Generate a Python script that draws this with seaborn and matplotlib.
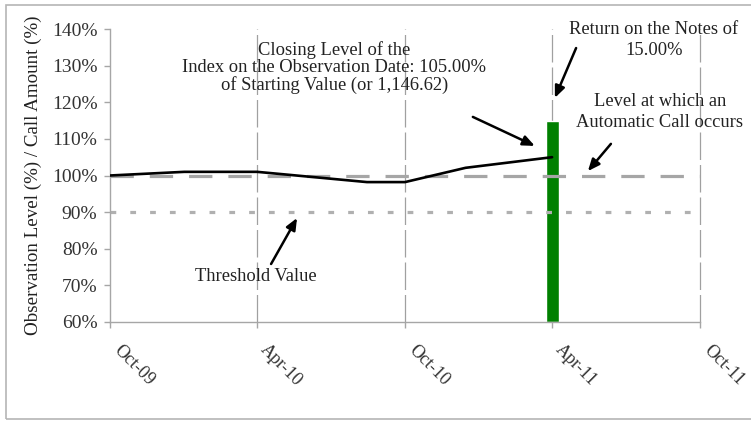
import matplotlib
matplotlib.use("Agg")
import matplotlib.pyplot as plt
from matplotlib.patches import Rectangle
import seaborn as sns
import pandas as pd

# ---- data ----
line_dates = ["2009-10-01", "2010-01-01", "2010-04-01", "2010-08-15",
              "2010-10-01", "2010-12-15", "2011-04-01"]
line_values = [100, 101, 101, 98.2, 98.2, 102.1, 105]

bar_date = "2011-04-01"
bar_bottom = 60
bar_top = 115

call_level = 100
threshold_level = 90

tick_dates = ["2009-10-01", "2010-04-01", "2010-10-01", "2011-04-01", "2011-10-01"]
tick_labels = ["Oct-09", "Apr-10", "Oct-10", "Apr-11", "Oct-11"]
y_ticks = [60, 70, 80, 90, 100, 110, 120, 130, 140]
y_tick_labels = [f"{v}%" for v in y_ticks]

ylabel = "Observation Level (%) / Call Amount (%)"
txt_closing = "Closing Level of the\nIndex on the Observation Date: 105.00%\nof Starting Value (or 1,146.62)"
txt_return = "Return on the Notes of\n15.00%"
txt_call = "Level at which an\nAutomatic Call occurs"
txt_threshold = "Threshold Value"

# ---- style ----
sns.set_theme(style="white")
plt.rcParams["font.family"] = ["Liberation Serif", "DejaVu Serif"]

W, H = 751, 422
fig = plt.figure(figsize=(W / 100, H / 100), dpi=100)
ax = fig.add_axes([110 / W, 1 - 322 / H, 590 / W, 293 / H])

df = pd.DataFrame({"date": pd.to_datetime(line_dates), "value": line_values})
tick_dt = pd.to_datetime(tick_dates)
x0, x1 = tick_dt[0], tick_dt[-1]

grey = "#a6a6a6"

# vertical grid lines
for d in tick_dt[1:]:
    ax.axvline(d, color="#a0a0a0", lw=0.9, ls=(0, (22, 4)), zorder=0, clip_on=False)

# green bar
ax.bar(pd.to_datetime([bar_date]), [bar_top - bar_bottom], bottom=bar_bottom,
       width=16, color="#008000", zorder=1)

# reference lines
ax.plot([x0, x1], [call_level, call_level], color=grey, lw=2.3,
        ls=(0, (7.3, 5)), zorder=2, dash_capstyle="butt")
ax.plot([x0, x1], [threshold_level, threshold_level], color="#b0b0b0", lw=2.3,
        ls=(0, (1.8, 4.4)), zorder=2, dash_capstyle="butt")

# index line
sns.lineplot(data=df, x="date", y="value", ax=ax, color="black", lw=1.9, zorder=3)

ax.set_xlim(x0, x1)
ax.set_ylim(60, 140)
ax.set_yticks(y_ticks)
ax.set_yticklabels(y_tick_labels)
ax.set_xticks(tick_dt)
ax.set_xticklabels(tick_labels, rotation=-45, ha="left", va="top")
ax.set_xlabel("")
ax.set_ylabel(ylabel, fontsize=13.7, color="#222222", labelpad=7)

for s in ["top", "right"]:
    ax.spines[s].set_visible(False)
for s in ["left", "bottom"]:
    ax.spines[s].set_color(grey)
    ax.spines[s].set_linewidth(1.0)

ax.tick_params(axis="y", which="major", left=True, length=4, width=1.0,
               color=grey, labelsize=14, labelcolor="#333333", pad=5)
ax.tick_params(axis="x", which="major", bottom=True, length=4, width=1.0,
               color=grey, labelsize=13, labelcolor="#333333", pad=10)
ax.grid(False)
ax.set_facecolor("none")

# annotations
tc = "#222222"
fs = 13.3
ax.text(0.380, 0.867, txt_closing, transform=ax.transAxes, ha="center", va="center",
        fontsize=fs, color=tc, linespacing=1.0)
ax.text(0.922, 0.962, txt_return, transform=ax.transAxes, ha="center", va="center",
        fontsize=fs, color=tc, linespacing=1.35)
ax.text(0.932, 0.718, txt_call, transform=ax.transAxes, ha="center", va="center",
        fontsize=fs, color=tc, linespacing=1.3)
ax.text(0.247, 0.154, txt_threshold, transform=ax.transAxes, ha="center", va="center",
        fontsize=fs, color=tc)

arrows = [((0.615, 0.700), (0.720, 0.601)),
          ((0.790, 0.935), (0.754, 0.765)),
          ((0.849, 0.608), (0.810, 0.515)),
          ((0.273, 0.198), (0.317, 0.355))]
for tail, head in arrows:
    ax.annotate("", xy=head, xytext=tail, xycoords="axes fraction",
                textcoords="axes fraction",
                arrowprops=dict(arrowstyle="-|>,head_length=0.7,head_width=0.3",
                                color="black", lw=1.8, shrinkA=0, shrinkB=0,
                                mutation_scale=10),
                annotation_clip=False)

# outer frame
fig.patches.append(Rectangle((6 / W, 3 / H), 1.2, 1 - 8 / H, transform=fig.transFigure,
                             fill=False, edgecolor="#b5b5b5", lw=1.2))

fig.savefig("out.png", dpi=100)
